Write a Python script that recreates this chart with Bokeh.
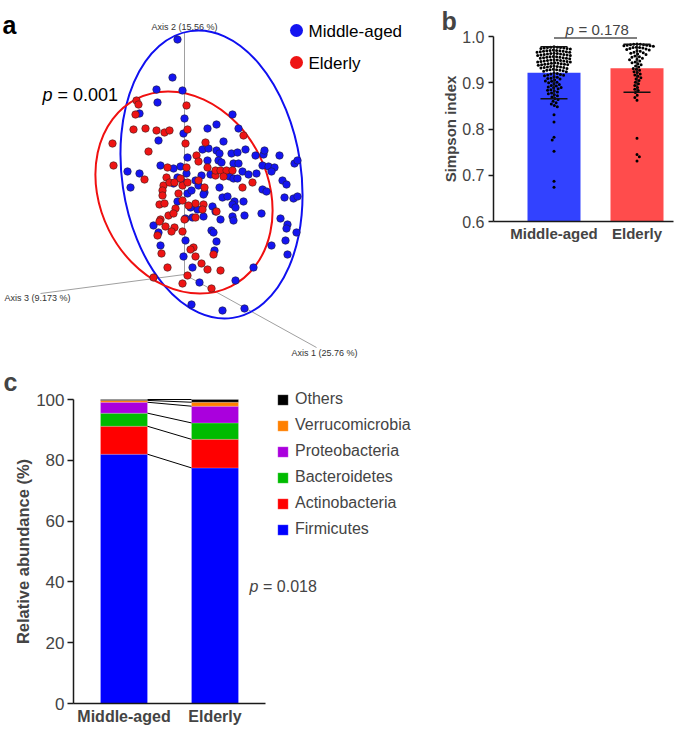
import math
import numpy as np
from bokeh.plotting import figure
from bokeh.models import (Range1d, FixedTicker, Label, Legend, LegendItem,
                          ColumnDataSource, NumeralTickFormatter)
from bokeh.layouts import column, row
from bokeh.embed import file_html
from bokeh.resources import INLINE
from bokeh.core.properties import value

FONT = "Liberation Sans"

# ---------------- Panel a : PCoA (projected view) ----------------
groups = ["Middle-aged", "Elderly"]
group_colors = ["#1414f0", "#ee1414"]
axis_names = ["Axis 1 (25.76 %)", "Axis 2 (15.56 %)", "Axis 3 (9.173 %)"]
p_pcoa = "0.001"

middle_aged_x = [177, 172, 156, 182, 157, 139, 184, 232, 216, 207, 238, 183, 158, 223, 202,
                 208, 216, 219, 231, 237, 245, 255, 263, 264, 279, 207, 218, 221, 233, 238,
                 262, 268, 274, 271, 294, 297, 210, 229, 233, 237, 242, 248, 256, 282, 286,
                 219, 204, 262, 266, 284, 293, 297, 222, 227, 234, 232, 235, 243, 244, 261,
                 280, 212, 215, 220, 203, 232, 233, 287, 286, 296, 211, 213, 216, 185, 160,
                 214, 183, 285, 271, 287, 192, 253, 199, 235, 191, 222, 244, 127, 139, 130,
                 160, 173, 180, 187, 186, 177, 183, 195, 198, 187, 191, 177, 197, 192, 185,
                 203, 173, 153, 158, 201, 190]
middle_aged_y = [39, 77, 89, 90, 102, 113, 118, 114, 124, 128, 128, 133, 140, 141, 149,
                 148, 150, 153, 153, 152, 149, 155, 154, 150, 155, 160, 160, 162, 163, 163,
                 165, 166, 167, 171, 163, 160, 174, 176, 178, 178, 171, 174, 173, 180, 184,
                 187, 192, 189, 191, 197, 198, 196, 197, 196, 201, 204, 207, 201, 215, 213,
                 218, 206, 211, 219, 216, 216, 220, 224, 228, 232, 230, 232, 241, 240, 245,
                 250, 256, 240, 245, 254, 267, 267, 282, 280, 304, 310, 308, 171, 173, 187,
                 165, 168, 166, 157, 173, 177, 182, 180, 185, 193, 190, 201, 209, 217, 218,
                 194, 183, 225, 232, 175, 207]
elderly_x = [136, 186, 138, 135, 243, 133, 145, 156, 164, 169, 187, 185, 112, 148, 205,
             196, 113, 167, 186, 207, 198, 144, 215, 215, 220, 226, 232, 223, 252, 242,
             204, 166, 163, 169, 174, 182, 178, 162, 162, 182, 159, 164, 175, 195, 203,
             188, 202, 216, 168, 173, 195, 160, 165, 174, 171, 182, 184, 157, 193, 190,
             213, 195, 201, 161, 167, 207, 220, 153, 187, 182, 211, 198, 180, 187, 159]
elderly_y = [100, 105, 104, 114, 135, 129, 128, 130, 132, 130, 129, 143, 143, 151, 142,
             155, 165, 167, 167, 167, 161, 179, 175, 170, 170, 170, 170, 176, 182, 187,
             187, 177, 185, 182, 182, 185, 193, 190, 195, 200, 204, 203, 208, 203, 204,
             205, 209, 211, 215, 213, 217, 219, 226, 227, 231, 231, 219, 235, 247, 249,
             254, 256, 263, 253, 267, 269, 270, 277, 275, 283, 288, 180, 178, 182, 221]

# 95% ellipses (centre x, centre y, width, height, rotation)
ellipse_cx = [211, 183.5]
ellipse_cy = [174, 192]
ellipse_w = [179, 168]
ellipse_h = [290, 210]
ellipse_angle = [0.147, 0.464]

# ---------------- Panel b : Simpson index ----------------
simpson_groups = ["Middle-aged", "Elderly"]
simpson_mean = [0.9215, 0.9315]
simpson_sd = [0.0562, 0.0519]
simpson_colors = ["#3242ff", "#ff4c4c"]
p_simpson = "0.178"
simpson_middle_aged = [
    0.978, 0.977, 0.977, 0.976, 0.976, 0.975, 0.975, 0.974, 0.974, 0.973,
    0.971, 0.970, 0.970, 0.969, 0.969, 0.968, 0.968, 0.967, 0.967, 0.966, 0.966,
    0.964, 0.963, 0.963, 0.962, 0.962, 0.961, 0.961, 0.960, 0.960, 0.959, 0.959,
    0.957, 0.956, 0.956, 0.955, 0.955, 0.954, 0.954, 0.953, 0.953, 0.952,
    0.950, 0.949, 0.949, 0.948, 0.948, 0.947, 0.947, 0.946, 0.946, 0.945, 0.945,
    0.943, 0.942, 0.942, 0.941, 0.941, 0.940, 0.940, 0.939, 0.939, 0.938,
    0.936, 0.935, 0.935, 0.934, 0.934, 0.933, 0.933, 0.932, 0.931,
    0.929, 0.928, 0.928, 0.927, 0.927, 0.926, 0.925, 0.924,
    0.921, 0.920, 0.919, 0.918, 0.917, 0.916, 0.915,
    0.913, 0.912, 0.910, 0.909, 0.908, 0.906,
    0.904, 0.903, 0.901, 0.900, 0.898,
    0.896, 0.894, 0.893, 0.891, 0.890, 0.889,
    0.887, 0.885, 0.884, 0.882, 0.880,
    0.878, 0.876, 0.874, 0.872,
    0.869, 0.866, 0.864,
    0.860, 0.857, 0.854, 0.851, 0.848,
    0.831, 0.815, 0.782, 0.776, 0.752, 0.687, 0.674]
simpson_elderly = [
    0.984, 0.983, 0.983, 0.982, 0.982, 0.981, 0.981, 0.980, 0.980, 0.979,
    0.977, 0.976, 0.976, 0.975, 0.974, 0.973, 0.972, 0.971,
    0.969, 0.968, 0.966, 0.965, 0.964, 0.962, 0.961,
    0.958, 0.956, 0.955, 0.953, 0.951, 0.950,
    0.947, 0.945, 0.943, 0.941, 0.939,
    0.936, 0.934, 0.931, 0.929, 0.927,
    0.924, 0.922, 0.919, 0.917,
    0.914, 0.911, 0.908, 0.905,
    0.901, 0.898, 0.894, 0.890,
    0.886, 0.883, 0.879,
    0.873, 0.868, 0.862,
    0.780, 0.745, 0.740, 0.731]
simpson_ticks = [0.6, 0.7, 0.8, 0.9, 1.0]

# ---------------- Panel c : phylum composition ----------------
phyla = ["Firmicutes", "Actinobacteria", "Bacteroidetes", "Proteobacteria",
         "Verrucomicrobia", "Others"]
phyla_colors = ["#0000ff", "#ff0000", "#00bb00", "#aa00dd", "#ff8000", "#000000"]
abund_middle_aged = [82.0, 9.2, 4.3, 3.6, 0.6, 0.3]
abund_elderly = [77.5, 9.4, 5.4, 5.5, 1.3, 0.9]
abund_ticks = [0, 20, 40, 60, 80, 100]
p_phyla = "0.018"

AXC = "#1a1a1a"
TOP_H = 360

# ======================= Panel a ==========================
fa = figure(width=440, height=TOP_H, x_range=Range1d(0, 440), y_range=Range1d(TOP_H, 0),
            x_axis_type=None, y_axis_type=None, toolbar_location=None,
            output_backend="svg", min_border=0, outline_line_color=None)
fa.grid.visible = False

ox, oy = 184, 274
fa.segment(x0=[ox, ox, ox], y0=[oy, oy, oy], x1=[316, 184, 40], y1=[347, 32, 293],
           line_color="#a0a0a0", line_width=1)
fa.text(x=[324, 184, 37], y=[352, 26, 297], text=axis_names,
        text_font=value(FONT), text_font_size="9px", text_align="center",
        text_baseline="middle", text_color="#333333")
fa.ellipse(x=ellipse_cx, y=ellipse_cy, width=ellipse_w, height=ellipse_h,
           angle=ellipse_angle, fill_color=None, line_color=["#1010f0", "#f01010"],
           line_width=2)
fa.scatter(middle_aged_x, middle_aged_y, size=7.5, fill_color=group_colors[0],
           line_color="#202040", line_width=0.6)
fa.scatter(elderly_x, elderly_y, size=7.5, fill_color=group_colors[1],
           line_color="#402020", line_width=0.6)
fa.scatter(x=[296, 296], y=[30, 62], size=13, fill_color=group_colors, line_color=None)
fa.text(x=[308, 308], y=[31, 63], text=groups, text_font=value(FONT),
        text_font_size="17px", text_baseline="middle", text_color="black")
fa.text(x=[42], y=[94], text=["p"], text_font=value(FONT), text_font_size="18px",
        text_font_style="italic", text_baseline="middle")
fa.text(x=[57], y=[94], text=["= " + p_pcoa], text_font=value(FONT),
        text_font_size="18px", text_baseline="middle")
fa.text(x=[2], y=[24], text=["a"], text_font=value(FONT), text_font_size="25px",
        text_font_style="bold", text_baseline="alphabetic")

# ======================= Panel b ==========================
BX = 83.0     # px per category unit
BY = 462.5    # px per simpson unit
B_LEFT = 440


def bpx(px):
    return 1 + (px - 553.5) / BX


def bpy(py):
    return 0.6 + (221 - py) / BY


fb = figure(width=245, height=TOP_H, x_range=Range1d(bpx(B_LEFT), bpx(B_LEFT + 245)),
            y_range=Range1d(bpy(TOP_H), bpy(0)), toolbar_location=None,
            output_backend="svg", min_border=0, outline_line_color=None)
fb.grid.visible = False
xb = [1, 2]
fb.vbar(x=xb, top=simpson_mean, bottom=simpson_ticks[0], width=53 / BX,
        fill_color=simpson_colors, line_color=None)


def swarm_offsets(vals, px_y, px_x, d):
    ys = np.asarray(vals, dtype=float) * px_y
    order = np.argsort(-ys, kind="stable")
    px_list, py_list = [], []
    out = np.zeros(len(ys))
    flip = 1
    for i in order:
        y = ys[i]
        near = [(a, b) for a, b in zip(px_list, py_list) if abs(b - y) < d]
        cands = [0.0]
        for a, b in near:
            dx = math.sqrt(max(d * d - (b - y) ** 2, 0))
            cands += [a - dx, a + dx]
        cands.sort(key=lambda c: (round(abs(c), 6), flip * c))
        for c in cands:
            if all((c - a) ** 2 + (y - b) ** 2 >= d * d - 1e-6 for a, b in near):
                out[i] = c
                break
        flip = -flip
        px_list.append(out[i])
        py_list.append(y)
    return out / px_x


for gi, vals in enumerate([simpson_middle_aged, simpson_elderly]):
    offs = swarm_offsets(vals, BY, BX, 3.3)
    fb.scatter(x=xb[gi] + offs, y=vals, size=3.0, fill_color="black", line_color=None)

m = np.array(simpson_mean)
s = np.array(simpson_sd)
cap = 27 / BX / 2
fb.segment(x0=xb, x1=xb, y0=m - s, y1=m + s, line_color="#111111", line_width=1.4)
fb.segment(x0=[x - cap for x in xb] * 2, x1=[x + cap for x in xb] * 2,
           y0=list(m - s) + list(m + s), y1=list(m - s) + list(m + s),
           line_color="#111111", line_width=1.4)
fb.segment(x0=[1.0], x1=[2.0], y0=[bpy(37.5)], y1=[bpy(37.5)], line_color="black",
           line_width=1)

fb.add_layout(Label(x=bpx(565), y=bpy(29), text="p", text_font=FONT, text_font_size="15px",
                    text_font_style="italic", text_baseline="middle"))
fb.add_layout(Label(x=bpx(578), y=bpy(29), text="= " + p_simpson, text_font=FONT,
                    text_font_size="15px", text_baseline="middle"))
fb.add_layout(Label(x=bpx(441), y=bpy(20), text="b", text_font=FONT, text_font_size="25px",
                    text_font_style="bold", text_baseline="alphabetic"))

fb.yaxis.fixed_location = bpx(493)
fb.yaxis.ticker = FixedTicker(ticks=simpson_ticks)
fb.yaxis.formatter = NumeralTickFormatter(format="0.0")
fb.yaxis.bounds = (simpson_ticks[0], simpson_ticks[-1])
fb.yaxis.axis_label = "Simpson index"
fb.yaxis.axis_label_standoff = 0
fb.xaxis.fixed_location = simpson_ticks[0]
fb.xaxis.bounds = (bpx(493), bpx(673))
fb.xaxis.ticker = FixedTicker(ticks=xb)
fb.xaxis.major_label_overrides = {1: simpson_groups[0], 2: simpson_groups[1]}
for ax in (fb.xaxis, fb.yaxis):
    ax.minor_tick_line_color = None
    ax.axis_line_width = 1.5
    ax.axis_line_color = AXC
    ax.major_tick_line_width = 1.5
    ax.major_tick_out = 5
    ax.major_tick_in = 0
    ax.axis_label_text_font = FONT
    ax.axis_label_text_font_style = "bold"
    ax.axis_label_text_font_size = "15px"
    ax.major_label_text_font = FONT
fb.xaxis.major_tick_line_color = None
fb.xaxis.major_tick_out = 0
fb.xaxis.major_label_standoff = 3
fb.yaxis.major_tick_line_color = AXC
fb.yaxis.major_label_text_font_size = "16px"
fb.yaxis.major_label_standoff = 4
fb.xaxis.major_label_text_font_size = "15px"
fb.xaxis.major_label_text_font_style = "bold"

# ======================= Panel c ==========================
CX = 91.0
CY = 3.04
C_TOP = TOP_H
C_H = 731 - TOP_H


def cpx(px):
    return 1 + (px - 123.5) / CX


def cpy(py):
    return (703 - py) / CY


fc = figure(width=685, height=C_H, x_range=Range1d(cpx(0), cpx(685)),
            y_range=Range1d(cpy(C_TOP + C_H), cpy(C_TOP)), toolbar_location=None,
            output_backend="svg", min_border=0, outline_line_color=None)
fc.grid.visible = False
src = {"x": [1, 2]}
for k, name in enumerate(phyla):
    src[name] = [abund_middle_aged[k], abund_elderly[k]]
bw = 47 / CX
rends = fc.vbar_stack(phyla, x="x", width=bw, color=phyla_colors, source=ColumnDataSource(src),
                      line_color="white", line_alpha=0.25, line_width=0.8)
cum_m = np.cumsum(abund_middle_aged)
cum_e = np.cumsum(abund_elderly)
fc.segment(x0=[1 + bw / 2] * len(phyla), x1=[2 - bw / 2] * len(phyla), y0=cum_m, y1=cum_e,
           line_color="black", line_width=1)

items = [LegendItem(label=phyla[k], renderers=[rends[k]]) for k in range(len(phyla) - 1, -1, -1)]
leg = Legend(items=items, location=(276, (C_TOP + C_H) - 539), glyph_width=13, glyph_height=13,
             label_height=20, spacing=6, label_standoff=6, padding=0, margin=0,
             border_line_color=None, background_fill_alpha=0,
             label_text_font=FONT, label_text_font_size="16px")
fc.add_layout(leg)

fc.add_layout(Label(x=cpx(249), y=cpy(586), text="p", text_font=FONT, text_font_size="16px",
                    text_font_style="italic", text_baseline="middle"))
fc.add_layout(Label(x=cpx(262.5), y=cpy(586), text="= " + p_phyla, text_font=FONT,
                    text_font_size="16px", text_baseline="middle"))
fc.add_layout(Label(x=cpx(3), y=cpy(381), text="c", text_font=FONT, text_font_size="25px",
                    text_font_style="bold", text_baseline="alphabetic"))

fc.yaxis.fixed_location = cpx(73)
fc.yaxis.ticker = FixedTicker(ticks=abund_ticks)
fc.yaxis.bounds = (abund_ticks[0], abund_ticks[-1])
fc.yaxis.axis_label = "Relative abundance (%)"
fc.yaxis.axis_label_standoff = 1
fc.xaxis.fixed_location = abund_ticks[0]
fc.xaxis.ticker = FixedTicker(ticks=[1, 2])
fc.xaxis.major_label_overrides = {1: simpson_groups[0], 2: simpson_groups[1]}
fc.xaxis.bounds = (cpx(73), cpx(265))
for ax in (fc.xaxis, fc.yaxis):
    ax.minor_tick_line_color = None
    ax.axis_line_width = 1.5
    ax.axis_line_color = AXC
    ax.major_tick_line_width = 1.5
    ax.major_tick_out = 6
    ax.major_tick_in = 0
    ax.axis_label_text_font = FONT
    ax.axis_label_text_font_style = "bold"
    ax.axis_label_text_font_size = "16.5px"
    ax.major_label_text_font = FONT
fc.xaxis.major_tick_line_color = None
fc.xaxis.major_tick_out = 0
fc.xaxis.major_label_standoff = 4
fc.yaxis.major_tick_line_color = AXC
fc.yaxis.major_label_text_font_size = "17px"
fc.yaxis.major_label_standoff = 3
fc.xaxis.major_label_text_font_size = "16px"
fc.xaxis.major_label_text_font_style = "bold"

layout = column(row(fa, fb), fc)
open("out.html", "w").write(file_html(layout, INLINE))
